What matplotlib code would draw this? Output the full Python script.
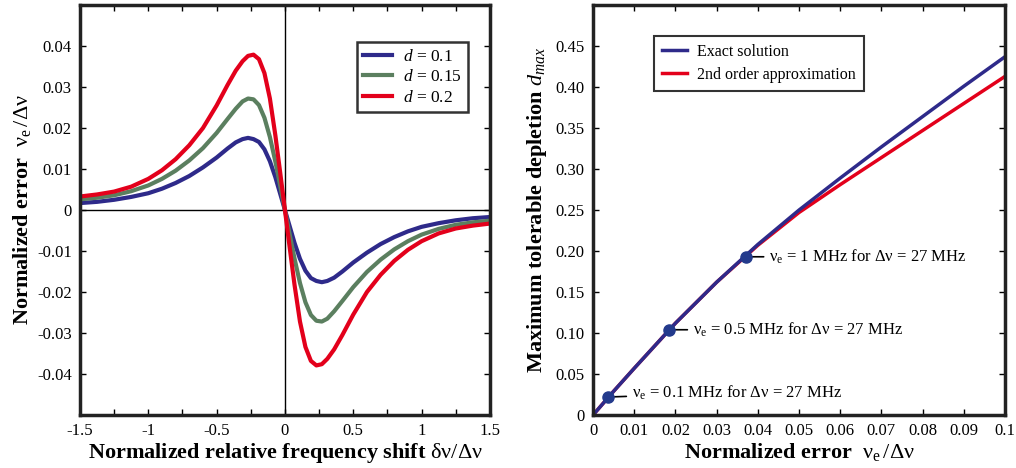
import numpy as np
import matplotlib
matplotlib.use("Agg")
import matplotlib.pyplot as plt
from matplotlib.ticker import MultipleLocator, FixedLocator

plt.rcParams['font.family'] = ['Liberation Serif', 'DejaVu Serif']
plt.rcParams['mathtext.fontset'] = 'custom'
plt.rcParams['mathtext.rm'] = 'Liberation Serif'
plt.rcParams['mathtext.it'] = 'Liberation Serif:italic'
plt.rcParams['mathtext.bf'] = 'Liberation Serif:bold'

# ---- left panel: normalized error vs frequency shift ----
shift = [-1.5, -1.375, -1.25, -1.125, -1.0, -0.9, -0.8, -0.7, -0.6, -0.5, -0.42, -0.36, -0.31,
         -0.27, -0.23, -0.19, -0.15, -0.11, -0.07, -0.035, 0.0,
         0.035, 0.07, 0.11, 0.15, 0.19, 0.23, 0.27,
         0.31, 0.36, 0.42, 0.5, 0.6, 0.7, 0.8, 0.9, 1.0, 1.125, 1.25, 1.375, 1.5]
err_d010 = [0.0017, 0.0020, 0.0025, 0.0032, 0.0041, 0.0052, 0.0066, 0.0083, 0.0104, 0.0128, 0.0150, 0.0165, 0.0173,
            0.0176, 0.0173, 0.0166, 0.0148, 0.0119, 0.0080, 0.0040, 0.0,
            -0.0040, -0.0080, -0.0119, -0.0148, -0.0166, -0.0173, -0.0176,
            -0.0173, -0.0165, -0.0150, -0.0128, -0.0104, -0.0083, -0.0066, -0.0052, -0.0041, -0.0032, -0.0025, -0.0020, -0.0017]
err_d015 = [0.0026, 0.0030, 0.0036, 0.0046, 0.0060, 0.0076, 0.0096, 0.0121, 0.0151, 0.0188, 0.0222, 0.0247, 0.0265,
            0.0272, 0.0270, 0.0256, 0.0225, 0.0178, 0.0118, 0.0060, 0.0,
            -0.0060, -0.0118, -0.0178, -0.0225, -0.0256, -0.0270, -0.0272,
            -0.0265, -0.0247, -0.0222, -0.0188, -0.0151, -0.0121, -0.0096, -0.0076, -0.0060, -0.0046, -0.0036, -0.0030, -0.0026]
err_d020 = [0.0033, 0.0038, 0.0045, 0.0057, 0.0076, 0.0097, 0.0124, 0.0158, 0.0200, 0.0255, 0.0305, 0.0340, 0.0363,
            0.0376, 0.0379, 0.0368, 0.0334, 0.0272, 0.0182, 0.0092, 0.0,
            -0.0092, -0.0182, -0.0272, -0.0334, -0.0368, -0.0379, -0.0376,
            -0.0363, -0.0340, -0.0305, -0.0255, -0.0200, -0.0158, -0.0124, -0.0097, -0.0076, -0.0057, -0.0045, -0.0038, -0.0033]
left_labels = ['$d$ = 0.1', '$d$ = 0.15', '$d$ = 0.2']
left_colors = ['#2e2a8a', '#5b7f5f', '#e3001b']

# ---- right panel: max tolerable depletion ----
nerr = [0.0, 0.005, 0.01, 0.02, 0.03, 0.04, 0.05, 0.06, 0.07, 0.08, 0.09, 0.1]
dmax_exact = [0.0, 0.029, 0.057, 0.112, 0.162, 0.208, 0.250, 0.289, 0.327, 0.364, 0.401, 0.437]
dmax_approx = [0.0, 0.029, 0.057, 0.112, 0.162, 0.207, 0.247, 0.281, 0.314, 0.347, 0.380, 0.413]
nu_e_MHz = [0.1, 0.5, 1.0]
delta_nu_MHz = 27.0
dmax_marks = [0.022, 0.104, 0.193]

fig = plt.figure(figsize=(10.16, 4.68), dpi=100)
ax1 = fig.add_axes([0.0787, 0.1132, 0.4035, 0.876])
ax2 = fig.add_axes([0.5837, 0.1132, 0.4055, 0.876])

for ax in (ax1, ax2):
    for s in ax.spines.values():
        s.set_linewidth(2.5)
        s.set_color('#222222')
    ax.tick_params(which='both', direction='in', top=True, right=True,
                   length=4, width=1, labelsize=12, pad=6)

# left
ax1.axhline(0, color='black', lw=1)
ax1.axvline(0, color='black', lw=1)
for ys, lab, c in zip([err_d010, err_d015, err_d020], left_labels, left_colors):
    ax1.plot(shift, ys, color=c, lw=3, label=lab, solid_joinstyle='round')
ax1.set_xlim(-1.5, 1.5)
ax1.set_ylim(-0.05, 0.05)
ax1.xaxis.set_major_locator(FixedLocator([-1.5, -1, -0.5, 0, 0.5, 1, 1.5]))
ax1.set_xticklabels(['-1.5', '-1', '-0.5', '0', '0.5', '1', '1.5'])
ax1.xaxis.set_minor_locator(MultipleLocator(0.25))
yt = [-0.04, -0.03, -0.02, -0.01, 0, 0.01, 0.02, 0.03, 0.04]
ax1.set_yticks(yt)
ax1.set_yticklabels(['-0.04', '-0.03', '-0.02', '-0.01', '0', '0.01', '0.02', '0.03', '0.04'])
ax1.set_xlabel(r'Normalized relative frequency shift $\mathrm{\delta\nu/\Delta\nu}$',
               fontsize=16, fontweight='bold', labelpad=1)
ax1.set_ylabel(r'Normalized error  $\mathrm{\nu_e\,/\Delta\nu}$',
               fontsize=16, fontweight='bold', labelpad=3)
leg1 = ax1.legend(loc='upper right', bbox_to_anchor=(0.967, 0.93), fontsize=12.5,
                  frameon=True, fancybox=False, edgecolor='black',
                  handlelength=1.7, handletextpad=0.6, borderpad=0.35, labelspacing=0.25)
leg1.get_frame().set_linewidth(1.8)

# right
ax2.plot(nerr, dmax_approx, color='#e3001b', lw=2.5, label='2nd order approximation')
ax2.plot(nerr, dmax_exact, color='#2e2a8a', lw=2.5, label='Exact solution')
mark_x = [v / delta_nu_MHz for v in nu_e_MHz]
ax2.plot(mark_x, dmax_marks, 'o', color='#233a8c', ms=8, zorder=5)
offs = [(17, 3), (17, 0), (17, 0)]
for mx, my, v, off in zip(mark_x, dmax_marks, nu_e_MHz, offs):
    txt = r'$\mathrm{\nu_e}$ = %g MHz for $\mathrm{\Delta\nu}$ = 27 MHz' % v
    ax2.annotate(txt, xy=(mx, my), xytext=off, textcoords='offset points',
                 ha='left', va='center', fontsize=12,
                 arrowprops=dict(arrowstyle='-', color='black', lw=1.2,
                                 shrinkA=2, shrinkB=3))
ax2.set_xlim(0, 0.1)
ax2.set_ylim(0, 0.5)
ax2.set_xticks([0, 0.01, 0.02, 0.03, 0.04, 0.05, 0.06, 0.07, 0.08, 0.09, 0.1])
ax2.set_xticklabels(['0', '0.01', '0.02', '0.03', '0.04', '0.05', '0.06', '0.07', '0.08', '0.09', '0.1'])
ax2.set_yticks([0, 0.05, 0.1, 0.15, 0.2, 0.25, 0.3, 0.35, 0.4, 0.45])
ax2.set_yticklabels(['0', '0.05', '0.10', '0.15', '0.20', '0.25', '0.30', '0.35', '0.40', '0.45'])
ax2.set_xlabel(r'Normalized error  $\mathrm{\nu_e\,/\Delta\nu}$',
               fontsize=16, fontweight='bold', labelpad=1)
ax2.set_ylabel(r'Maximum tolerable depletion $d_{max}$',
               fontsize=16, fontweight='bold', labelpad=5)
h, l = ax2.get_legend_handles_labels()
leg2 = ax2.legend(h[::-1], l[::-1], loc='upper left', bbox_to_anchor=(0.128, 0.945), fontsize=11.5,
                  frameon=True, fancybox=False, edgecolor='black',
                  handlelength=1.6, handletextpad=0.6, borderpad=0.5, labelspacing=0.45)
leg2.get_frame().set_linewidth(1.5)

fig.savefig('out.png', dpi=100)
